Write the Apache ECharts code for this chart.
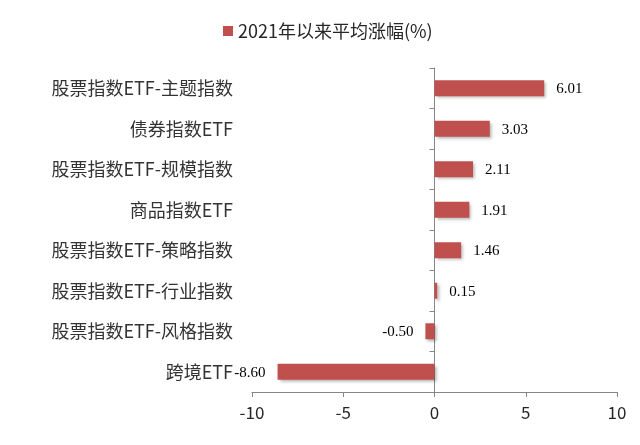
<!DOCTYPE html>
<html>
<head>
<meta charset="utf-8">
<script src="https://cdn.jsdelivr.net/npm/echarts@6/dist/echarts.min.js"></script>
<style>
html,body{margin:0;padding:0;background:#fff;}
#chart{width:640px;height:445px;}
</style>
</head>
<body>
<div id="chart"></div>
<script>
const categories = ['股票指数ETF-主题指数','债券指数ETF','股票指数ETF-规模指数','商品指数ETF','股票指数ETF-策略指数','股票指数ETF-行业指数','股票指数ETF-风格指数','跨境ETF'];
const values = [6.01, 3.03, 2.11, 1.91, 1.46, 0.15, -0.50, -8.60];
const seriesName = '2021年以来平均涨幅(%)';
const xTicks = [-10, -5, 0, 5, 10];

const cjk = '"Noto Sans CJK SC", "Noto Sans", sans-serif';
const chart = echarts.init(document.getElementById('chart'), null, {renderer: 'canvas'});
const cats = categories.slice().reverse();
const vals = values.slice().reverse();

chart.setOption({
  animation: false,
  backgroundColor: '#fff',
  legend: {
    data: [seriesName],
    left: 218,
    top: 17,
    itemWidth: 10,
    itemHeight: 10,
    itemGap: 6,
    icon: 'rect',
    textStyle: {fontFamily: cjk, fontSize: 18, color: '#262626'}
  },
  grid: {left: 252, right: 23, top: 68, bottom: 53, containLabel: false},
  xAxis: {
    type: 'value',
    min: xTicks[0],
    max: xTicks[xTicks.length - 1],
    interval: 5,
    axisLine: {show: true, onZero: false, lineStyle: {color: '#868686', width: 1}},
    axisTick: {show: true, length: 5, lineStyle: {color: '#868686'}},
    splitLine: {show: false},
    axisLabel: {fontFamily: cjk, fontSize: 17, color: '#262626', margin: 12}
  },
  yAxis: [
    {
      type: 'category',
      data: cats,
      axisLine: {show: false, onZero: false},
      axisTick: {show: false},
      axisLabel: {fontFamily: cjk, fontSize: 18, color: '#333', margin: 19}
    },
    {
      type: 'category',
      data: cats,
      position: 'left',
      axisLine: {show: true, onZero: true, lineStyle: {color: '#868686', width: 1}},
      axisTick: {show: true, length: 5, lineStyle: {color: '#868686'}},
      axisLabel: {show: false}
    }
  ],
  series: [{
    name: seriesName,
    type: 'bar',
    yAxisIndex: 0,
    barWidth: 16,
    data: vals.map(v => ({
      value: v,
      label: {position: v < 0 ? 'left' : 'right'}
    })),
    itemStyle: {
      color: '#C0504D',
      shadowColor: 'rgba(0,0,0,0.3)',
      shadowBlur: 3,
      shadowOffsetX: 2,
      shadowOffsetY: 2
    },
    label: {
      show: true,
      distance: 12,
      offset: [0, 1],
      fontFamily: '"Liberation Serif", "Times New Roman", serif',
      fontSize: 15,
      color: '#000',
      formatter: p => p.value.toFixed(2)
    }
  }]
});
</script>
</body>
</html>
